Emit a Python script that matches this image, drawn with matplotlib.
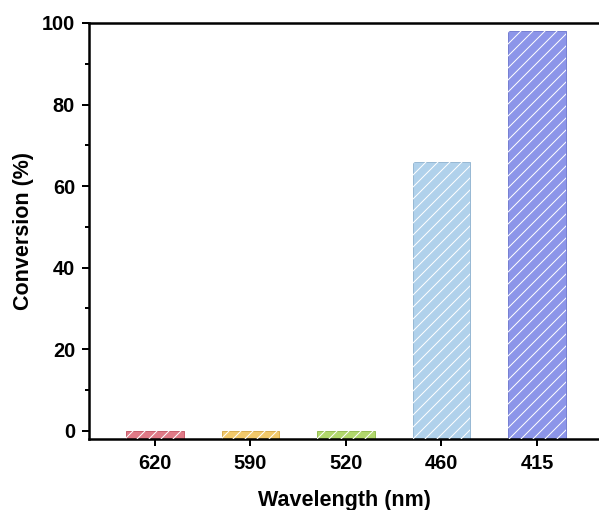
import matplotlib
matplotlib.use("Agg")
import matplotlib.pyplot as plt
from matplotlib.ticker import MultipleLocator

categories = ["620", "590", "520", "460", "415"]
conversion = [0.0, 0.0, 0.0, 66.0, 98.0]
colors = ["#E07A87", "#F2C96A", "#B1D86C", "#B0D1EB", "#8C95E9"]
edge_colors = ["#C9606E", "#D9AE50", "#97BE55", "#98B9D4", "#7780D2"]

plt.rcParams["font.family"] = ["Liberation Sans", "DejaVu Sans"]
plt.rcParams["font.weight"] = "bold"
plt.rcParams["hatch.color"] = "white"
plt.rcParams["hatch.linewidth"] = 1.0

fig = plt.figure(figsize=(599 / 72, 510 / 72), dpi=72)
ax = fig.add_axes([89 / 599, (510 - 439) / 510, 1 - 89 / 599, (439 - 23) / 510])

ymin, ymax = -2, 100
x = list(range(len(categories)))
heights = [v - ymin for v in conversion]
ax.bar(x, heights, width=0.6, bottom=ymin, color=colors, edgecolor=edge_colors,
       linewidth=1.0, zorder=2)
ax.bar(x, heights, width=0.6, bottom=ymin, color="none", edgecolor="white",
       hatch="//", linewidth=0, zorder=3)

ax.set_xlim(-0.69, 4.65)
ax.set_ylim(ymin, ymax)
ax.set_xticks(x)
ax.set_xticklabels(categories)
ax.yaxis.set_major_locator(MultipleLocator(20))
ax.yaxis.set_minor_locator(MultipleLocator(10))

for s in ["left", "bottom", "top"]:
    ax.spines[s].set_linewidth(2.5)
ax.spines["right"].set_visible(False)

ax.tick_params(axis="both", which="major", direction="out", length=7, width=2,
               labelsize=20)
ax.tick_params(axis="x", which="major", pad=8)
ax.tick_params(axis="y", which="major", pad=7)
ax.tick_params(axis="y", which="minor", direction="out", length=4.5, width=2)
ax.tick_params(axis="x", which="minor", bottom=False)
for lbl in ax.get_xticklabels() + ax.get_yticklabels():
    lbl.set_fontweight("bold")

ax.set_xlabel("Wavelength (nm)", fontsize=21.5, fontweight="bold", labelpad=17)
ax.set_ylabel("Conversion (%)", fontsize=21.5, fontweight="bold", labelpad=8)

fig.savefig("out.png", dpi=72)
